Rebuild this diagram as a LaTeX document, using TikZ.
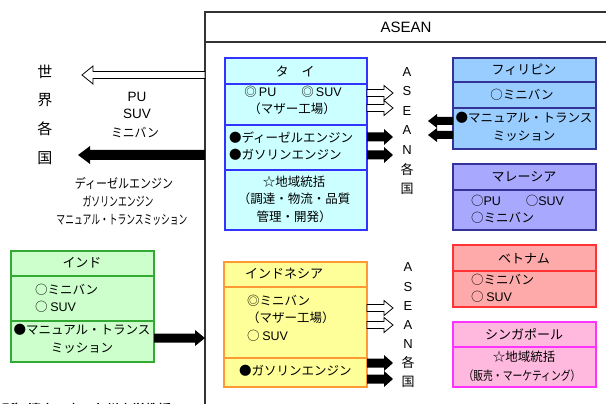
\documentclass[tikz,border=0pt]{standalone}
\usepackage{fontspec}
\setmainfont{Noto Sans CJK JP}
\newfontfamily\ar{Liberation Sans}
\newfontfamily\jpb[FakeBold=2]{Noto Sans CJK JP}
\usetikzlibrary{calc}
\definecolor{thaiF}{HTML}{CCFFFF}\definecolor{thaiE}{HTML}{3333FF}
\definecolor{phiF}{HTML}{99CCFF}\definecolor{phiE}{HTML}{333399}
\definecolor{malF}{HTML}{A8A8FF}\definecolor{malE}{HTML}{333399}
\definecolor{indF}{HTML}{CCFFCC}\definecolor{indE}{HTML}{33AA33}
\definecolor{idnF}{HTML}{FFFF99}\definecolor{idnE}{HTML}{FF9933}
\definecolor{vieF}{HTML}{FFAAAA}\definecolor{vieE}{HTML}{FF3333}
\definecolor{sinF}{HTML}{FFB8DE}\definecolor{sinE}{HTML}{FF33FF}
\newcommand\fatarrow[6]{%
  \path[#1] let \p1=(#2),\p2=(#3),\n1={sign(\x2-\x1)} in
  (\x1,\y1+#4pt) -- (\x2-\n1*#6pt,\y1+#4pt) -- (\x2-\n1*#6pt,\y1+#5pt) -- (\x2,\y1)
  -- (\x2-\n1*#6pt,\y1-#5pt) -- (\x2-\n1*#6pt,\y1-#4pt) -- (\x1,\y1-#4pt) -- cycle;}
\tikzset{
  every node/.style={inner sep=0pt, outer sep=0pt},
  cbox/.style={draw=#1, line width=1.3pt, anchor=north west},
  thaibox/.style={cbox=thaiE, fill=thaiF},
  phibox/.style={cbox=phiE, fill=phiF},
  malbox/.style={cbox=malE, fill=malF},
  indbox/.style={cbox=indE, fill=indF},
  idnbox/.style={cbox=idnE, fill=idnF},
  viebox/.style={cbox=vieE, fill=vieF},
  sinbox/.style={cbox=sinE, fill=sinF},
  txt/.style={font=\fontsize{12.5}{17.5}\selectfont, align=center},
  ttl/.style={font=\fontsize{13}{16}\selectfont},
  lt/.style={txt, anchor=west, align=left},
  vl/.style={font=\ar\fontsize{13}{13}\selectfont},
  vj/.style={font=\fontsize{13}{13}\selectfont},
  hollowarr/.style={draw=black, fill=white, line width=0.8pt},
  blackarr/.style={fill=black},
}
\begin{document}
\begin{tikzpicture}[x=1pt,y=-1pt]
\clip (0,0) rectangle (606,404);
\fill[white] (0,0) rectangle (606,404);
% ASEAN frame
\node[draw=black!80, line width=1.1pt, anchor=north west, minimum width=460, minimum height=430] (asean) at (205,12) {};
\draw[black!80, line width=1.1pt] (asean.west |- 0,42) -- (asean.east |- 0,42);
\node[font=\ar\fontsize{15}{15}\selectfont] (aseanlbl) at (406,27) {ASEAN};

% Thailand
\node[thaibox, minimum width=142, minimum height=172] (thai) at (225,58) {};
\foreach \yy in {84,125,170} \draw[thaiE, line width=1.3pt] (thai.west |- 0,\yy) -- (thai.east |- 0,\yy);
\node[ttl] (thaiT) at (295,71) {タ\quad イ};
\node[txt] (thai1) at (293,92) {◎\,{\ar PU}\qquad ◎\,{\ar SUV}};
\node[txt] (thai2) at (292,109) {（マザー工場）};
\node[lt] (thai3) at (229,146) {●ディーゼルエンジン\\●ガソリンエンジン};
\node[txt] (thai4) at (294,199) {☆地域統括\\（調達・物流・品質\\管理・開発）};

% Philippines
\node[phibox, minimum width=143, minimum height=91] (phi) at (453,58) {};
\foreach \yy in {82,108} \draw[phiE, line width=1.3pt] (phi.west |- 0,\yy) -- (phi.east |- 0,\yy);
\node[ttl] (phiT) at (524,70) {フィリピン};
\node[txt] (phi1) at (522,95) {○ミニバン};
\node[txt] (phi2) at (524,127) {●マニュアル・トランス\\ミッション};

% Malaysia
\node[malbox, minimum width=143, minimum height=66] (mal) at (453,164) {};
\draw[malE, line width=1.3pt] (mal.west |- 0,190) -- (mal.east |- 0,190);
\node[ttl] (malT) at (524,177) {マレーシア};
\node[lt] (mal1) at (471,209) {○{\ar PU}\qquad ○{\ar SUV}\\○ミニバン};

% India
\node[indbox, minimum width=143, minimum height=111] (ind) at (11,251) {};
\foreach \yy in {276,321} \draw[indE, line width=1.3pt] (ind.west |- 0,\yy) -- (ind.east |- 0,\yy);
\node[ttl] (indT) at (82,263) {インド};
\node[lt] (ind1) at (35,298) {○ミニバン\\○ {\ar SUV}};
\node[txt] (ind2) at (82,339) {●マニュアル・トランス\\ミッション};

% Indonesia
\node[idnbox, minimum width=143, minimum height=125] (idn) at (224,262) {};
\foreach \yy in {287,358} \draw[idnE, line width=1.3pt] (idn.west |- 0,\yy) -- (idn.east |- 0,\yy);
\node[ttl] (idnT) at (284,274) {インドネシア};
\node[lt] (idn1) at (247,318) {◎ミニバン\\（マザー工場）\\○ {\ar SUV}};
\node[lt] (idn2) at (239,371) {●ガソリンエンジン};

% Vietnam
\node[viebox, minimum width=143, minimum height=62] (vie) at (453,245) {};
\draw[vieE, line width=1.3pt] (vie.west |- 0,271) -- (vie.east |- 0,271);
\node[ttl] (vieT) at (524,259) {ベトナム};
\node[lt] (vie1) at (471,288) {○ミニバン\\○ {\ar SUV}};

% Singapore
\node[sinbox, minimum width=143, minimum height=65] (sin) at (453,322) {};
\draw[sinE, line width=1.3pt] (sin.west |- 0,347) -- (sin.east |- 0,347);
\node[ttl] (sinT) at (524,334) {シンガポール};
\node[txt] (sin1) at (524,357) {☆地域統括};
\node[txt] (sin2) at (522,376) {\resizebox{117pt}{\height}{（販売・マーケティング）}};

% vertical ASEAN labels
\foreach \t/\yy [count=\i] in {A/72,S/91,E/111,A/130,N/150} \node[vl] (ua\i) at (407,\yy) {\t};
\node[vj] (ua6) at (407,170) {各};
\node[vj] (ua7) at (407,189) {国};
\foreach \t/\yy [count=\i] in {A/267,S/287,E/306,A/325,N/344} \node[vl] (la\i) at (408,\yy) {\t};
\node[vj] (la6) at (408,363) {各};
\node[vj] (la7) at (408,382) {国};

% world
\foreach \t/\yy [count=\i] in {世/72,界/100,各/129,国/158} \node[font=\fontsize{15}{15}\selectfont] (w\i) at (45,\yy) {\t};
\node[font=\ar\fontsize{13.5}{13.5}\selectfont] (pu) at (137,97) {PU};
\node[font=\ar\fontsize{13.5}{13.5}\selectfont] (suv) at (137,114) {SUV};
\node[font=\fontsize{12.5}{12.5}\selectfont] (mv) at (135,133) {\resizebox{48pt}{\height}{ミニバン}};
\node[font=\fontsize{13}{13}\selectfont] (ex1) at (124,183) {\resizebox{98pt}{\height}{ディーゼルエンジン}};
\node[font=\fontsize{13}{13}\selectfont] (ex2) at (118,201) {\resizebox{71pt}{\height}{ガソリンエンジン}};
\node[font=\fontsize{13}{13}\selectfont] (ex3) at (122,220) {\resizebox{131pt}{\height}{マニュアル・トランスミッション}};

% coordinates for arrow tips
\coordinate (wt1) at (82,75);
\coordinate (wt2) at (78,155);
\coordinate (tt1) at (393,93);
\coordinate (tt2) at (393,108);
\coordinate (tt3) at (393,137);
\coordinate (tt4) at (393,155);
\coordinate (pt1) at (428,121);
\coordinate (pt2) at (428,135);
\coordinate (it1) at (393,308);
\coordinate (it2) at (393,325);
\coordinate (it3) at (393,363);
\coordinate (it4) at (393,379);

% arrows
\fatarrow{hollowarr}{asean.west |- wt1}{wt1}{3.5}{9}{11}
\fatarrow{blackarr}{asean.west |- wt2}{wt2}{5}{9}{12}
\fatarrow{hollowarr}{thai.east |- tt1}{tt1}{3.5}{7.5}{9}
\fatarrow{hollowarr}{thai.east |- tt2}{tt2}{3.5}{7.5}{9}
\fatarrow{blackarr}{thai.east |- tt3}{tt3}{4.5}{8}{9}
\fatarrow{blackarr}{thai.east |- tt4}{tt4}{4.5}{8}{9}
\fatarrow{blackarr}{phi.west |- pt1}{pt1}{4}{7}{9}
\fatarrow{blackarr}{phi.west |- pt2}{pt2}{4}{7}{9}
\fatarrow{hollowarr}{idn.east |- it1}{it1}{3.5}{7.5}{9}
\fatarrow{hollowarr}{idn.east |- it2}{it2}{3.5}{7.5}{9}
\fatarrow{blackarr}{idn.east |- it3}{it3}{4.5}{8}{9}
\fatarrow{blackarr}{idn.east |- it4}{it4}{4.5}{8}{9}
\fatarrow{blackarr}{ind.east |- 0,338}{asean.west |- 0,338}{4.5}{8}{10}

% clipped source note (cut off at the bottom edge, as in the reference)
\node[anchor=west, font=\jpb\fontsize{13}{13}\selectfont] (src) at (-24,409) {（出所）清水一史・九州大学教授};
\end{tikzpicture}
\end{document}
